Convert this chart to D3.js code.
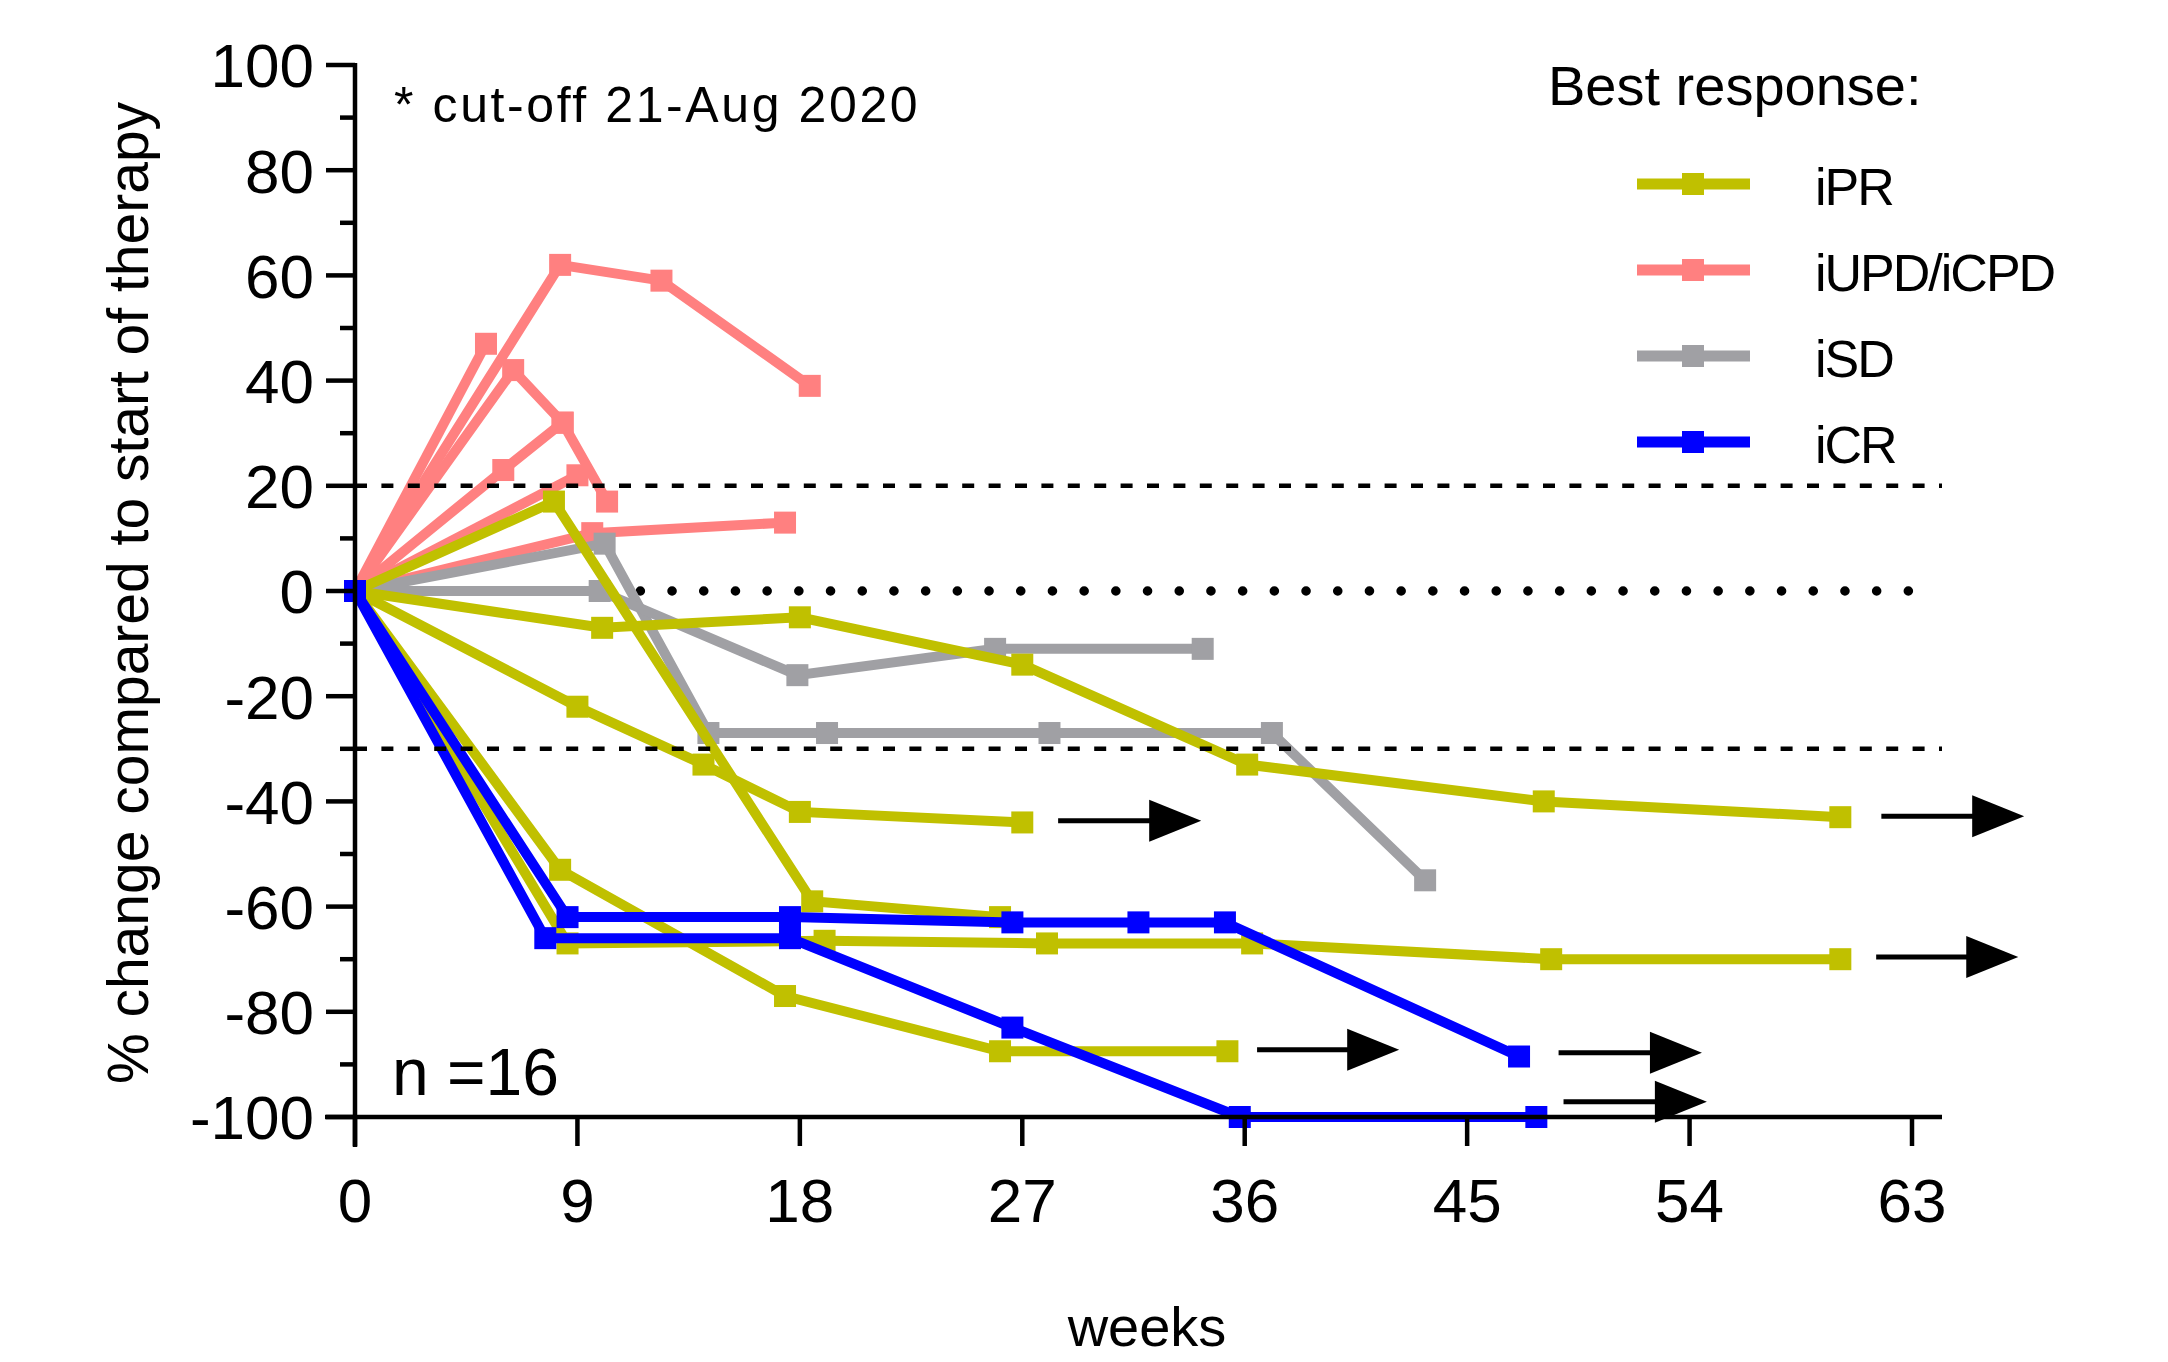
<!DOCTYPE html>
<html><head><meta charset="utf-8">
<script src="https://cdn.jsdelivr.net/npm/d3@7"></script>
<style>
body{margin:0;background:#fff}
svg{display:block}
text{font-family:"Liberation Sans", Arial, Helvetica, sans-serif;fill:#000}
</style>
</head><body>
<svg id="chart" width="2168" height="1362"></svg>
<script>
// ---------- data ----------
const categories = ["iPR", "iUPD/iCPD", "iSD", "iCR"];
const categoryColors = ["#C0C000", "#FF8080", "#A0A0A4", "#0000FF"];
const xTickValues = [0, 9, 18, 27, 36, 45, 54, 63];
const yTickValues = [-100, -80, -60, -40, -20, 0, 20, 40, 60, 80, 100];
const yMinorTicks = [-90, -70, -50, -30, -10, 10, 30, 50, 70, 90];
const thresholdLines = [20, -30];
const baselineLine = 0;

// each patient: weeks + % change
const iUPD_weeks  = [[0, 5.3], [0, 8.3, 12.4, 18.4], [0, 6.4, 8.4, 10.2], [0, 6.0, 8.4], [0, 9.0], [0, 9.6, 17.4]];
const iUPD_values = [[0, 47], [0, 62, 59, 39], [0, 42, 32, 17], [0, 23, 32], [0, 22], [0, 11, 13]];

const iSD_weeks  = [[0, 10.1, 14.3, 19.1, 28.1, 37.1, 43.3], [0, 9.9, 17.9, 25.9, 34.3]];
const iSD_values = [[0, 9, -27, -27, -27, -27, -55], [0, 0, -16, -11, -11]];

const iPR_weeks  = [[0, 8.05, 18.5, 26.1], [0, 10.0, 18.0, 27.0, 36.1, 48.1, 60.1], [0, 9.0, 14.1, 18.0, 27.0],
                    [0, 8.3, 17.4, 26.1, 35.3], [0, 8.6, 19.0, 28.0, 36.3, 48.4, 60.1]];
const iPR_values = [[0, 17, -59, -62], [0, -7, -5, -14, -33, -40, -43], [0, -22, -33, -42, -44],
                    [0, -53, -77, -87.5, -87.5], [0, -67, -66.5, -67, -67, -70, -70]];

const iCR_weeks  = [[0, 8.6, 17.6, 26.6, 31.7, 35.2, 47.1], [0, 7.7, 17.6, 26.6, 35.8, 47.8]];
const iCR_values = [[0, -62, -62, -63, -63, -63, -88.5], [0, -66, -66, -83, -100, -100]];

// "ongoing" arrows: start week, end week, value
const arrowStart = [28.45, 61.76, 61.55, 36.5, 48.7, 48.9];
const arrowEnd   = [34.24, 67.54, 67.30, 42.25, 54.5, 54.7];
const arrowValue = [-43.7, -42.8, -69.6, -87.2, -87.8, -97.1];

// ---------- layout ----------
const svg = d3.select("#chart");
const x = d3.scaleLinear().domain([0, 63]).range([355, 1912]);
const y = d3.scaleLinear().domain([-100, 100]).range([1117, 65]);

// dotted baseline (under data)
svg.append("line")
  .attr("x1", x(0)).attr("x2", x(63))
  .attr("y1", y(baselineLine)).attr("y2", y(baselineLine))
  .attr("stroke", "#000").attr("stroke-width", 9.5)
  .attr("stroke-linecap", "round").attr("stroke-dasharray", "0.1 31.6");

// ---------- series ----------
const groups = [
  {name: "iUPD/iCPD", weeks: iUPD_weeks, values: iUPD_values},
  {name: "iSD", weeks: iSD_weeks, values: iSD_values},
  {name: "iPR", weeks: iPR_weeks, values: iPR_values},
  {name: "iCR", weeks: iCR_weeks, values: iCR_values}
];
const colorOf = d3.scaleOrdinal().domain(categories).range(categoryColors);
const line = d3.line().x(d => x(d[0])).y(d => y(d[1]));
const MS = 22;

groups.forEach(g => {
  const col = colorOf(g.name);
  const gg = svg.append("g");
  g.weeks.forEach((ws, i) => {
    const pts = ws.map((w, j) => [w, g.values[i][j]]);
    gg.append("path").attr("d", line(pts)).attr("fill", "none")
      .attr("stroke", col).attr("stroke-width", 10).attr("stroke-linejoin", "miter");
    gg.selectAll(null).data(pts).enter().append("rect")
      .attr("x", d => x(d[0]) - MS / 2).attr("y", d => y(d[1]) - MS / 2)
      .attr("width", MS).attr("height", MS).attr("fill", col);
  });
});

// blue origin marker on top
svg.append("rect").attr("x", x(0) - MS / 2).attr("y", y(0) - MS / 2)
  .attr("width", MS).attr("height", MS).attr("fill", colorOf("iCR"));

// dashed thresholds (on top)
svg.selectAll(null).data(thresholdLines).enter().append("line")
  .attr("x1", x(0)).attr("x2", 1942)
  .attr("y1", d => y(d)).attr("y2", d => y(d))
  .attr("stroke", "#000").attr("stroke-width", 4.5).attr("stroke-dasharray", "12 14.4");

// arrows
arrowStart.forEach((s, i) => {
  const x1 = x(s), x2 = x(arrowEnd[i]), yy = y(arrowValue[i]);
  const head = 52, hh = 21;
  svg.append("line").attr("x1", x1).attr("x2", x2 - head + 2).attr("y1", yy).attr("y2", yy)
    .attr("stroke", "#000").attr("stroke-width", 5);
  svg.append("path")
    .attr("d", `M${x2 - head},${yy - hh}L${x2},${yy}L${x2 - head},${yy + hh}Z`)
    .attr("fill", "#000");
});

// ---------- axes ----------
const axisG = svg.append("g");
axisG.append("line").attr("x1", x(0)).attr("x2", x(0)).attr("y1", y(100) - 2).attr("y2", y(-100) + 30)
  .attr("stroke", "#000").attr("stroke-width", 4.5);
axisG.selectAll(null).data(yTickValues).enter().append("line")
  .attr("x1", x(0) - 29).attr("x2", x(0)).attr("y1", d => y(d)).attr("y2", d => y(d))
  .attr("stroke", "#000").attr("stroke-width", 4.5);
axisG.selectAll(null).data(yMinorTicks).enter().append("line")
  .attr("x1", x(0) - 15).attr("x2", x(0)).attr("y1", d => y(d)).attr("y2", d => y(d))
  .attr("stroke", "#000").attr("stroke-width", 4.5);
axisG.selectAll(null).data(yTickValues).enter().append("text")
  .attr("x", x(0) - 41).attr("y", d => y(d)).attr("dy", "0.36em")
  .attr("text-anchor", "end").attr("font-size", 62).text(d => d);
axisG.append("line").attr("x1", x(0) - 30).attr("x2", 1942).attr("y1", y(-100)).attr("y2", y(-100))
  .attr("stroke", "#000").attr("stroke-width", 4.5);
axisG.selectAll(null).data(xTickValues).enter().append("line")
  .attr("x1", d => x(d)).attr("x2", d => x(d)).attr("y1", y(-100)).attr("y2", y(-100) + 29)
  .attr("stroke", "#000").attr("stroke-width", 4.5);
axisG.selectAll(null).data(xTickValues).enter().append("text")
  .attr("x", d => x(d)).attr("y", 1222)
  .attr("text-anchor", "middle").attr("font-size", 62).text(d => d);

// axis titles
svg.append("text").attr("x", 1147).attr("y", 1346).attr("text-anchor", "middle")
  .attr("font-size", 56).text("weeks");
svg.append("text").attr("transform", "translate(148,593) rotate(-90)")
  .attr("text-anchor", "middle").attr("font-size", 57)
  .text("% change compared to start of therapy");

// annotations
svg.append("text").attr("x", 394).attr("y", 122).attr("font-size", 50)
  .attr("letter-spacing", 2.6).text("* cut-off 21-Aug 2020");
svg.append("text").attr("x", 392).attr("y", 1095).attr("font-size", 66).text("n =16");

// legend
svg.append("text").attr("x", 1548).attr("y", 105).attr("font-size", 56).text("Best response:");
const legendY = d3.scalePoint().domain(categories).range([184, 442]);
const lg = svg.append("g");
categories.forEach(c => {
  const yy = legendY(c);
  lg.append("line").attr("x1", 1637).attr("x2", 1750).attr("y1", yy).attr("y2", yy)
    .attr("stroke", colorOf(c)).attr("stroke-width", 11);
  lg.append("rect").attr("x", 1693 - MS / 2).attr("y", yy - MS / 2).attr("width", MS).attr("height", MS)
    .attr("fill", colorOf(c));
  lg.append("text").attr("x", 1815).attr("y", yy + 21).attr("font-size", 52)
    .attr("letter-spacing", -2).text(c);
});
</script>
</body></html>
